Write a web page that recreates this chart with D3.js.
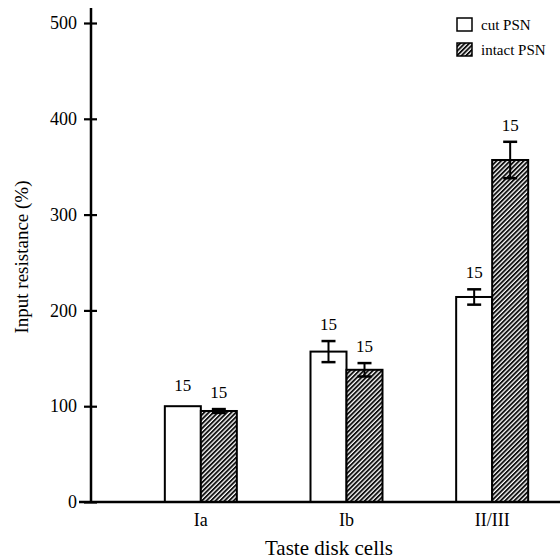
<!DOCTYPE html>
<html>
<head>
<meta charset="utf-8">
<script src="https://cdn.jsdelivr.net/npm/d3@7"></script>
<style>
  body { margin: 0; background: #fff; }
  text { font-family: "Liberation Serif", "Times New Roman", serif; fill: #000; }
</style>
</head>
<body>
<div id="chart"></div>
<script>
// data
const categories = ["Ia", "Ib", "II/III"];
const cutValues = [100, 157, 214];
const cutErrors = [0, 11, 8];
const intactValues = [95, 138, 357];
const intactErrors = [2, 7, 19];
const nLabels = ["15", "15", "15"];
const yTicks = [0, 100, 200, 300, 400, 500];

const width = 560, height = 560;

const svg = d3.select("#chart")
  .append("svg")
  .attr("width", width)
  .attr("height", height);

// hatch pattern for intact PSN
const defs = svg.append("defs");
const pat = defs.append("pattern")
  .attr("id", "hatch")
  .attr("patternUnits", "userSpaceOnUse")
  .attr("width", 3.2)
  .attr("height", 3.2)
  .attr("patternTransform", "rotate(45)");
pat.append("rect").attr("width", 3.2).attr("height", 3.2).attr("fill", "#fff");
pat.append("rect").attr("x", 0).attr("width", 1.9).attr("height", 3.2).attr("fill", "#111");

const y = d3.scaleLinear().domain([0, 500]).range([502, 23]);
const x = d3.scaleBand().domain(categories).range([128, 565]).padding(0);
const barW = 36;

// y axis
const yAxis = svg.append("g")
  .attr("transform", "translate(91,0)")
  .call(d3.axisLeft(y).tickValues(yTicks).tickSize(7).tickPadding(7));
yAxis.select(".domain").remove();
yAxis.selectAll(".tick line").attr("x2", 6).attr("x1", -7).attr("stroke", "#000").attr("stroke-width", 2.2);
yAxis.selectAll(".tick text")
  .attr("font-size", 18)
  .attr("font-family", "Liberation Serif, serif");
svg.append("line")
  .attr("x1", 91).attr("x2", 91)
  .attr("y1", 8).attr("y2", y(0))
  .attr("stroke", "#000").attr("stroke-width", 2.5);

// bars
const groups = svg.append("g");
categories.forEach((c, i) => {
  const cx = x(c) + x.bandwidth() / 2;
  const series = [
    { v: cutValues[i], e: cutErrors[i], x0: cx - barW, fill: "#fff" },
    { v: intactValues[i], e: intactErrors[i], x0: cx, fill: "url(#hatch)" }
  ];
  series.forEach(s => {
    groups.append("rect")
      .attr("x", s.x0)
      .attr("y", y(s.v))
      .attr("width", barW)
      .attr("height", y(0) - y(s.v))
      .attr("fill", s.fill)
      .attr("stroke", "#000")
      .attr("stroke-width", 2);
    const mx = s.x0 + barW / 2;
    if (s.e > 0) {
      groups.append("line")
        .attr("x1", mx).attr("x2", mx)
        .attr("y1", y(s.v - s.e)).attr("y2", y(s.v + s.e))
        .attr("stroke", "#000").attr("stroke-width", 2);
      [s.v + s.e, s.v - s.e].forEach(ev => {
        groups.append("line")
          .attr("x1", mx - 7).attr("x2", mx + 7)
          .attr("y1", y(ev)).attr("y2", y(ev))
          .attr("stroke", "#000").attr("stroke-width", 2.5);
      });
    }
    groups.append("text")
      .attr("x", mx)
      .attr("y", y(s.v + s.e) - (s.e > 0 ? 11 : 15))
      .attr("text-anchor", "middle")
      .attr("font-size", 17)
      .text(nLabels[i]);
  });
});

// x axis
svg.append("line")
  .attr("x1", 79).attr("x2", 560)
  .attr("y1", y(0)).attr("y2", y(0))
  .attr("stroke", "#000").attr("stroke-width", 2.5);
categories.forEach(c => {
  svg.append("text")
    .attr("x", x(c) + x.bandwidth() / 2)
    .attr("y", 526)
    .attr("text-anchor", "middle")
    .attr("font-size", 18)
    .text(c);
});

// axis titles
svg.append("text")
  .attr("x", 329)
  .attr("y", 555)
  .attr("text-anchor", "middle")
  .attr("font-size", 21)
  .text("Taste disk cells");

svg.append("text")
  .attr("transform", "translate(28,257) rotate(-90)")
  .attr("text-anchor", "middle")
  .attr("font-size", 19)
  .text("Input resistance (%)");

// legend
const legend = svg.append("g");
const legendItems = [
  { label: "cut PSN", fill: "#fff", y: 18 },
  { label: "intact PSN", fill: "url(#hatch)", y: 43 }
];
legendItems.forEach(d => {
  legend.append("rect")
    .attr("x", 457).attr("y", d.y)
    .attr("width", 15).attr("height", 13)
    .attr("fill", d.fill)
    .attr("stroke", "#000").attr("stroke-width", 1.5);
  legend.append("text")
    .attr("x", 481).attr("y", d.y + 12)
    .attr("font-size", 15)
    .text(d.label);
});
</script>
</body>
</html>
